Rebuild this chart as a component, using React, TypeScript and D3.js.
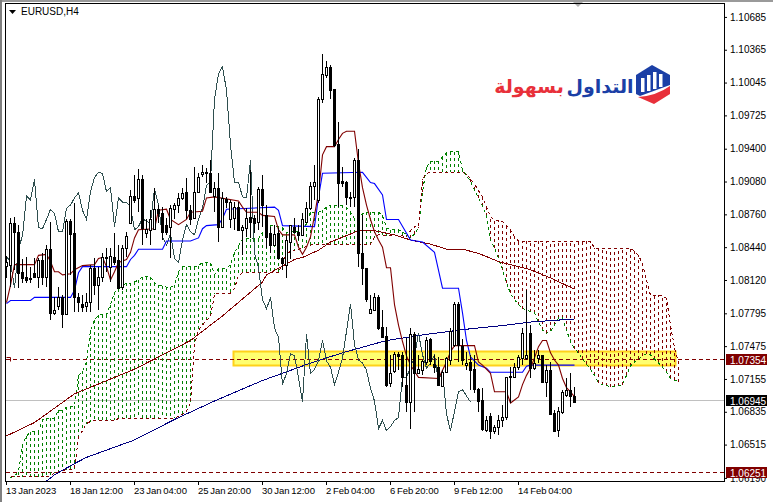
import React, { useEffect, useRef } from 'react';
import { select, scaleLinear, axisRight, axisBottom, line, format } from 'd3';

// prices are kept in points, 10830 = 1.0830
const highs = [
  10835,10872,10873,10866,10832,10834,10825,10833,10833,10838,
  10846,10869,10795,10805,10797,10871,10871,10887,10799,10797,
  10799,10827,10833,10825,10838,10843,10843,10858,10846,10846,
  10859,10900,10914,10920,10914,10871,10880,10902,10885,10883,
  10872,10885,10887,10897,10902,10911,10885,10922,10916,10924,
  10921,10929,10908,10916,10898,10893,10890,10888,10888,10866,
  10882,10919,10875,10903,10914,10885,10864,10866,10863,10834,
  10855,10866,10872,10866,10877,10888,10908,10924,10990,11032,
  11026,11022,10998,10966,10922,10909,10898,10931,10940,10875,
  10824,10797,10799,10797,10783,10766,10739,10742,10742,10742,
  10755,10765,10761,10739,10734,10756,10755,10739,10737,10724,
  10737,10765,10791,10791,10754,10742,10739,10739,10707,10707,
  10679,10682,10671,10680,10690,10717,10727,10731,10739,10765,
  10802,10768,10744,10744,10739,10729,10732,10685,10688,10705,
  10716,10721,10708,
];
const lows = [
  10814,10805,10822,10804,10809,10809,10809,10814,10804,10807,
  10805,10773,10778,10783,10765,10778,10817,10781,10781,10781,
  10781,10781,10797,10783,10810,10820,10810,10827,10804,10802,
  10834,10868,10887,10878,10846,10853,10846,10861,10868,10851,
  10856,10833,10871,10877,10890,10871,10866,10872,10897,10912,
  10907,10898,10878,10849,10863,10882,10863,10861,10861,10836,
  10854,10853,10858,10861,10864,10843,10838,10846,10832,10822,
  10814,10832,10858,10851,10856,10869,10880,10890,10887,10985,
  11009,10988,10942,10883,10903,10885,10883,10883,10825,10807,
  10791,10780,10783,10763,10756,10708,10708,10721,10724,10708,
  10683,10667,10683,10721,10719,10729,10729,10721,10709,10708,
  10721,10729,10747,10732,10729,10724,10705,10702,10683,10665,
  10664,10657,10662,10661,10669,10675,10692,10716,10724,10729,
  10734,10716,10724,10731,10712,10698,10680,10664,10659,10681,
  10698,10688,10692,
];
const opens = [
  10826,10827,10868,10859,10820,10815,10814,10819,10815,10831,
  10815,10842,10780,10787,10795,10779,10870,10858,10795,10789,
  10787,10791,10824,10807,10815,10833,10825,10834,10831,10805,
  10843,10868,10894,10892,10910,10858,10861,10862,10881,10877,
  10866,10864,10881,10885,10892,10898,10880,10872,10898,10915,
  10917,10916,10894,10902,10864,10891,10871,10872,10883,10861,
  10863,10873,10872,10869,10901,10875,10858,10846,10858,10833,
  10827,10849,10864,10859,10856,10869,10882,10904,10890,10988,
  11012,11020,10998,10945,10909,10908,10893,10893,10929,10838,
  10824,10780,10783,10795,10766,10757,10712,10723,10740,10739,
  10710,10693,10759,10721,10724,10732,10754,10730,10727,10709,
  10722,10734,10749,10789,10748,10729,10732,10725,10706,10695,
  10666,10679,10665,10669,10675,10678,10718,10717,10727,10736,
  10736,10760,10726,10736,10739,10713,10724,10682,10666,10683,
  10700,10705,10699,
];
const closes = [
  10830,10868,10859,10819,10814,10812,10813,10815,10831,10815,
  10842,10780,10783,10795,10779,10870,10857,10795,10791,10786,
  10791,10824,10807,10815,10834,10834,10835,10830,10804,10843,
  10855,10894,10890,10910,10863,10862,10871,10881,10877,10859,
  10859,10882,10885,10892,10897,10880,10871,10898,10912,10917,
  10916,10898,10902,10864,10892,10888,10888,10883,10861,10864,
  10872,10869,10868,10901,10885,10854,10846,10857,10833,10829,
  10851,10866,10859,10856,10871,10882,10904,10908,10988,11013,
  11020,10997,10944,10907,10907,10893,10892,10929,10838,10824,
  10793,10784,10795,10765,10756,10710,10721,10740,10738,10717,
  10693,10759,10721,10725,10733,10753,10733,10727,10710,10722,
  10736,10762,10789,10749,10734,10731,10724,10706,10694,10667,
  10675,10665,10669,10675,10678,10717,10717,10727,10737,10760,
  10739,10726,10731,10739,10713,10724,10681,10665,10684,10703,
  10705,10699,10693,
];

// the lagging span is just the closes drawn 26 bars back
const chikou = closes.slice(26);

const tenkanBars = [0,1,2,7,8,10,11,12,13,14,16,17,19,22,23,24,25,26,27,28,30,31,32,33,37,38,40,41,43,45,46,49,50,52,58,59,60,63,64,67,68,69,72,73,74,75,76,77,78,79,80,82,83,84,85,87,88,89,90,91,92,93,94,95,96,97,98,99,100,101,102,103,108,109,110,111,112,117,118,119,121,122,125,126,128,129,130,131,132,133,134,135,136,137,138,139,140,141,142];
const tenkanValues = [10790,10807,10827,10827,10836,10837,10830,10820,10820,10817,10818,10822,10826,10827,10833,10834,10825,10812,10820,10829,10832,10839,10853,10861,10862,10880,10881,10871,10866,10871,10878,10879,10892,10893,10889,10883,10878,10878,10875,10874,10861,10856,10856,10844,10837,10844,10854,10875,10897,10934,10942,10942,10949,10955,10957,10957,10926,10902,10885,10871,10859,10851,10844,10824,10824,10788,10768,10752,10738,10729,10723,10717,10716,10724,10732,10742,10748,10748,10732,10729,10721,10703,10703,10692,10698,10710,10719,10726,10736,10747,10753,10753,10741,10734,10729,10716,10707,10703,10698];

const kijunBars = [0,1,6,7,16,17,18,19,30,31,32,33,39,40,46,48,49,50,53,54,55,67,68,69,77,78,79,89,91,92,94,95,98,101,104,107,109,113,114,115,116,118,120,121,129,130,131,142];
const kijunValues = [10789,10792,10792,10795,10795,10802,10819,10825,10825,10832,10836,10842,10842,10850,10850,10853,10862,10865,10866,10872,10881,10883,10880,10865,10864,10893,10916,10917,10907,10906,10895,10871,10871,10851,10849,10839,10804,10804,10780,10753,10737,10729,10726,10722,10722,10728,10729,10729];

const ma100Bars = [0,7,17,32,46,54,64,65,72,74,78,81,88,92,97,101,106,110,114,118,123,131,136,142];
const ma100Values = [10660,10673,10701,10725,10753,10777,10810,10817,10832,10834,10841,10849,10860,10860,10856,10851,10847,10842,10842,10838,10830,10822,10814,10803];

const ma200Bars = [10,12,17,20,27,32,37,42,52,64,69,76,84,95,105,115,125,131,142];
const ma200Values = [10616,10622,10633,10639,10649,10656,10666,10676,10694,10714,10721,10731,10741,10753,10759,10764,10768,10771,10774];

// cloud values run from bar 1, the last 26 bars are past the last candle
const senkouA = [
  10619,10621,10625,10651,10660,10664,10664,10664,10676,10677,
  10677,10677,10685,10685,10688,10689,10689,10719,10723,10732,
  10763,10773,10778,10778,10778,10788,10800,10803,10807,10809,
  10809,10810,10812,10815,10815,10815,10809,10807,10806,10805,
  10805,10807,10820,10825,10825,10825,10825,10826,10829,10829,
  10829,10817,10823,10823,10823,10827,10839,10845,10852,10852,
  10852,10852,10852,10858,10863,10865,10865,10864,10863,10858,
  10858,10860,10859,10858,10869,10878,10878,10878,10880,10883,
  10885,10885,10885,10885,10883,10878,10872,10871,10877,10878,
  10878,10878,10878,10875,10863,10861,10861,10861,10859,10856,
  10853,10857,10863,10898,10922,10928,10928,10928,10932,10936,
  10937,10937,10937,10919,10914,10908,10900,10892,10884,10874,
  10851,10843,10833,10822,10809,10799,10793,10788,10784,10783,
  10781,10780,10771,10763,10760,10762,10768,10775,10775,10763,
  10752,10745,10741,10735,10730,10725,10719,10712,10710,10709,
  10708,10708,10709,10710,10719,10728,10732,10735,10738,10740,
  10739,10735,10731,10727,10722,10716,10714,10713,
];
const senkouB = [
  10620,10620,10620,10620,10620,10620,10620,10620,10620,10620,
  10621,10624,10625,10626,10627,10627,10628,10659,10665,10672,
  10674,10675,10675,10675,10675,10675,10675,10677,10677,10677,
  10677,10677,10677,10677,10677,10677,10677,10677,10677,10677,
  10677,10677,10679,10681,10684,10692,10749,10763,10768,10773,
  10776,10798,10799,10799,10799,10799,10804,10816,10819,10819,
  10819,10819,10819,10819,10819,10819,10819,10819,10829,10837,
  10840,10841,10842,10843,10845,10846,10847,10847,10847,10847,
  10847,10847,10847,10847,10847,10847,10847,10847,10847,10847,
  10847,10854,10856,10856,10855,10855,10855,10855,10855,10854,
  10860,10864,10864,10910,10916,10917,10917,10917,10917,10917,
  10917,10917,10917,10917,10915,10911,10905,10900,10893,10883,
  10874,10870,10870,10869,10865,10861,10854,10850,10850,10850,
  10850,10850,10850,10850,10850,10850,10850,10850,10850,10850,
  10850,10850,10850,10850,10850,10850,10843,10843,10843,10843,
  10843,10843,10843,10843,10843,10843,10840,10836,10828,10812,
  10797,10797,10797,10797,10794,10768,10746,10731,
];

const priceTicks = [11068.5,11036.5,11004.5,10972.5,10940,10908,10876,10844,10812,10779.5,10747.5,10715.5,10683.5,10651.5,10619];
const timeBars = [0,16,32,48,64,80,96,112,128];
const timeLabels = ['13 Jan 2023','18 Jan 12:00','23 Jan 04:00','25 Jan 20:00','30 Jan 12:00','2 Feb 04:00','6 Feb 20:00','9 Feb 12:00','14 Feb 04:00'];

const lastPrice = 10694.5;
const levelHigh = 10735.4;
const levelLow = 10625.1;
const bandTop = 10743;
const bandBottom = 10729;

const FONT = '"Liberation Sans", Arial, sans-serif';
const MAROON = '#800000';
const GREEN = '#008000';

export default function App() {
  const svgRef = useRef<SVGSVGElement>(null);

  useEffect(() => {
    const svg = select(svgRef.current);
    svg.selectAll('*').remove();

    const x = scaleLinear().domain([0, 142]).range([6, 574]);
    const y = scaleLinear().domain([11085, 10616]).range([0, 481]);
    const px = (i: number) => Math.round(x(i));
    const py = (v: number) => Math.round(y(v));

    const defs = svg.append('defs');
    defs.append('clipPath').attr('id', 'plot').append('rect')
      .attr('x', 6).attr('y', 4).attr('width', 718).attr('height', 477);

    // window frame
    svg.append('rect').attr('width', 773).attr('height', 502).attr('fill', '#fff');
    svg.append('rect').attr('width', 773).attr('height', 2).attr('fill', '#9a9a9a');
    svg.append('rect').attr('width', 2).attr('height', 502).attr('fill', '#808080');
    svg.append('path').attr('d', 'M573 2h10l-5 5z').attr('fill', '#b0b0b0');

    const plot = svg.append('g').attr('clip-path', 'url(#plot)');

    // yellow zone
    plot.append('rect')
      .attr('x', 233.5).attr('width', 442)
      .attr('y', py(bandTop) + 0.5).attr('height', py(bandBottom) - py(bandTop))
      .attr('fill', '#ffff70').attr('stroke', '#ffd21a').attr('stroke-width', 2);

    // price levels
    plot.append('line').attr('x1', 6).attr('x2', 724)
      .attr('y1', py(lastPrice) + 0.5).attr('y2', py(lastPrice) + 0.5)
      .attr('stroke', '#c0c0c0');
    ;[levelHigh, levelLow].forEach(v => {
      plot.append('line').attr('x1', 6).attr('x2', 724)
        .attr('y1', py(v) + 0.5).attr('y2', py(v) + 0.5)
        .attr('stroke', MAROON).attr('stroke-dasharray', '4 3');
    });
    plot.append('path').attr('d', `M6.5 ${py(levelHigh) - 1.5}h4v4`)
      .attr('fill', 'none').attr('stroke', MAROON);

    // cloud hatching, one dashed stroke per bar
    const cloud = senkouA.map((a, i) => ({ bar: i + 1, a, b: senkouB[i] }));
    plot.append('g').selectAll('line').data(cloud).join('line')
      .attr('x1', d => px(d.bar) + 0.5).attr('x2', d => px(d.bar) + 0.5)
      .attr('y1', d => y(d.a)).attr('y2', d => y(d.b))
      .attr('stroke', d => (d.a >= d.b ? GREEN : MAROON))
      .attr('stroke-dasharray', '3 3')
      .attr('shape-rendering', 'crispEdges');

    const lineOf = (bars: number[], values: number[]) =>
      line<number>().x((_, i) => x(bars[i]) + 0.5).y(v => y(v))(values);
    const seq = (n: number, from = 0) => Array.from({ length: n }, (_, i) => i + from);

    const paths = [
      { d: lineOf(seq(senkouA.length, 1), senkouA), color: GREEN, width: 1, dash: '3 3', crisp: true },
      { d: lineOf(seq(senkouB.length, 1), senkouB), color: MAROON, width: 1, dash: '3 3', crisp: true },
      { d: lineOf(ma100Bars, ma100Values), color: MAROON, width: 1, dash: null, crisp: true },
      { d: lineOf(ma200Bars, ma200Values), color: '#000080', width: 1, dash: null, crisp: true },
      { d: lineOf(seq(chikou.length), chikou), color: '#2f4f4f', width: 1, dash: null, crisp: true },
      { d: lineOf(kijunBars, kijunValues), color: '#0000ff', width: 1.1, dash: null, crisp: false },
      { d: lineOf(tenkanBars, tenkanValues), color: MAROON, width: 1.1, dash: null, crisp: false },
    ];
    plot.append('g')
      .selectAll('path').data(paths).join('path')
      .attr('d', d => d.d)
      .attr('fill', 'none')
      .attr('stroke', d => d.color)
      .attr('stroke-width', d => d.width)
      .attr('stroke-dasharray', d => d.dash)
      .attr('shape-rendering', d => (d.crisp ? 'crispEdges' : 'auto'));

    // candles
    const bars = highs.map((h, i) => ({ i, h, l: lows[i], o: opens[i], c: closes[i] }));
    const candles = plot.append('g').attr('shape-rendering', 'crispEdges');
    candles.selectAll('line').data(bars).join('line')
      .attr('x1', d => px(d.i) + 0.5).attr('x2', d => px(d.i) + 0.5)
      .attr('y1', d => py(d.h)).attr('y2', d => py(d.l))
      .attr('stroke', '#000');
    candles.selectAll('rect').data(bars).join('rect')
      .attr('x', d => px(d.i) - 0.5)
      .attr('width', 2)
      .attr('y', d => py(Math.max(d.o, d.c)) + 0.5)
      .attr('height', d => Math.max(py(Math.min(d.o, d.c)) - py(Math.max(d.o, d.c)), 1))
      .attr('fill', d => (d.c >= d.o ? '#fff' : '#000'))
      .attr('stroke', '#000');

    // frame of the plot
    svg.append('rect').attr('x', 5.5).attr('y', 3.5).attr('width', 719).attr('height', 478)
      .attr('fill', 'none').attr('stroke', '#000');

    // title
    svg.append('path').attr('d', 'M9 10h7l-3.5 4z').attr('fill', '#000');
    svg.append('text').attr('x', 21).attr('y', 15)
      .attr('font-family', FONT).attr('font-size', 10).attr('fill', '#000')
      .text('EURUSD,H4');

    // price axis
    const right = svg.append('g').attr('transform', 'translate(724,0)')
      .call(axisRight(y).tickValues(priceTicks).tickSize(3).tickPadding(3)
        .tickFormat(v => format('.5f')(+v / 10000)));
    right.select('.domain').remove();
    right.selectAll('text').attr('font-family', FONT).attr('font-size', 10).attr('fill', '#000');
    right.selectAll('line').attr('stroke', '#000');

    // time axis
    const bottom = svg.append('g').attr('transform', 'translate(0,481)')
      .call(axisBottom(x).tickValues(timeBars).tickSize(4)
        .tickFormat((_, i) => timeLabels[i]));
    bottom.select('.domain').remove();
    bottom.selectAll('text')
      .attr('font-family', FONT).attr('font-size', 9.5).attr('word-spacing', -1).attr('fill', '#000')
      .attr('text-anchor', 'start').attr('x', -0.5).attr('y', 6);
    bottom.selectAll('line').attr('stroke', '#000');

    // price tags on the axis
    const tags = [
      { v: levelHigh, bg: MAROON },
      { v: lastPrice, bg: '#000' },
      { v: levelLow, bg: MAROON },
    ];
    const tag = svg.append('g').selectAll('g').data(tags).join('g')
      .attr('transform', d => `translate(726,${py(d.v)})`);
    tag.append('rect').attr('y', -5).attr('width', 41).attr('height', 11).attr('fill', d => d.bg);
    tag.append('text').attr('x', 4).attr('y', 4.5)
      .attr('font-family', FONT).attr('font-size', 10).attr('fill', '#fff')
      .text(d => format('.5f')(d.v / 10000));

    // logo
    const logo = svg.append('g');
    logo.append('text').attr('x', 600).attr('y', 93).attr('text-anchor', 'middle')
      .attr('font-family', '"DejaVu Sans"').attr('font-weight', 'bold').attr('font-size', 19)
      .attr('fill', '#1b3fa6').text('التداول');
    logo.append('text').attr('x', 529).attr('y', 93).attr('text-anchor', 'middle')
      .attr('font-family', '"DejaVu Sans"').attr('font-weight', 'bold').attr('font-size', 19)
      .attr('fill', '#e8303a').text('بسهولة');
    logo.append('path').attr('d', 'M652 65L670 75V85L640 96L636 94V75Z').attr('fill', '#1b3fa6');
    logo.append('path').attr('d', 'M670 86V94L654 104L638 97Q656 96 670 86Z').attr('fill', '#e8303a');
    ;[[641, 78, 14], [647, 75, 16], [653, 72, 17], [659, 74, 13]].forEach(([bx, by, bh]) => {
      logo.append('rect').attr('x', bx).attr('y', by).attr('width', 3.5).attr('height', bh).attr('fill', '#fff');
    });
  }, []);

  return (
    <svg
      ref={svgRef}
      width={773}
      height={502}
      style={{ position: 'absolute', left: 0, top: 0 }}
    />
  );
}
